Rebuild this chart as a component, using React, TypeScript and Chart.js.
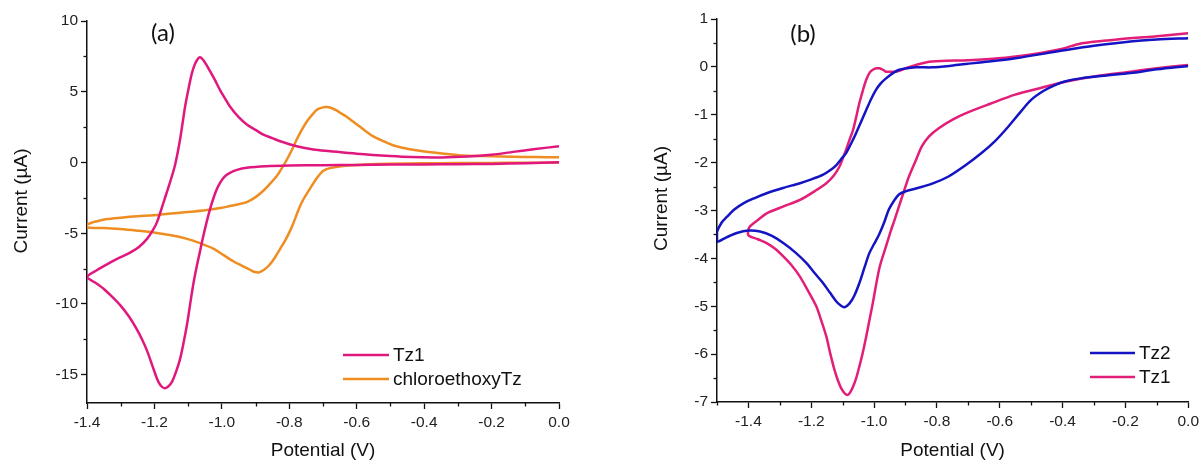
import React, { useEffect, useRef } from 'react';
import { Chart, registerables } from 'chart.js';

Chart.register(...registerables);

// ---------------- Panel (a) data ----------------
const A_TZ1_V = [
  0.0, -0.1, -0.2, -0.3, -0.4, -0.5, -0.6, -0.7, -0.8, -0.87, -0.926, -0.955, -0.976, -0.992, -1.005, -1.016, -1.026,
  -1.035, -1.045, -1.056, -1.065, -1.075, -1.084, -1.094, -1.103, -1.114, -1.124, -1.136, -1.148, -1.16, -1.171,
  -1.182, -1.192, -1.207, -1.222, -1.237, -1.252, -1.275, -1.301, -1.325, -1.35, -1.375, -1.4,
  -1.37, -1.341, -1.305, -1.271, -1.245, -1.222, -1.205, -1.192, -1.17, -1.155, -1.139, -1.124, -1.109, -1.099,
  -1.089, -1.08, -1.072, -1.065, -1.057, -1.047, -1.035, -1.02, -1.005, -0.99, -0.976, -0.95, -0.926, -0.9, -0.877,
  -0.85, -0.827, -0.778, -0.729, -0.679, -0.6, -0.5, -0.44, -0.35, -0.272, -0.2, -0.136, -0.07, 0.0,
];
const A_TZ1_I = [
  0.02, -0.05, -0.1, -0.12, -0.14, -0.15, -0.17, -0.19, -0.21, -0.26, -0.37, -0.52, -0.73, -1.0, -1.43, -1.95, -2.6,
  -3.3, -4.2, -5.3, -6.3, -7.4, -8.5, -10.0, -11.4, -12.8, -13.9, -14.8, -15.5, -15.85, -15.95,
  -15.75, -15.3, -14.3, -13.3, -12.5, -11.8, -10.9, -10.1, -9.5, -8.94, -8.5, -8.1,
  -7.6, -7.2, -6.75, -6.35, -5.95, -5.4, -4.8, -4.2, -2.6, -1.5, -0.2, 1.62, 3.96, 5.2,
  6.3, 6.95, 7.3, 7.44, 7.3, 6.95, 6.45, 5.8, 5.1, 4.5, 3.96, 3.2, 2.68, 2.3, 1.97,
  1.72, 1.5, 1.15, 0.92, 0.8, 0.62, 0.45, 0.38, 0.36, 0.42, 0.55, 0.75, 0.95, 1.15,
];
const A_CL_V = [
  0.0, -0.1, -0.2, -0.3, -0.4, -0.5, -0.58, -0.63, -0.679, -0.7, -0.718, -0.74, -0.758, -0.772, -0.788, -0.797,
  -0.812, -0.827, -0.845, -0.861, -0.876, -0.891, -0.905, -0.915, -0.94, -0.965, -0.995, -1.024, -1.065, -1.103,
  -1.15, -1.202, -1.25, -1.302, -1.35, -1.4,
  -1.4, -1.37, -1.341, -1.3, -1.25, -1.202, -1.15, -1.1, -1.044, -1.0, -0.976, -0.95, -0.926, -0.9, -0.877, -0.857,
  -0.837, -0.822, -0.807, -0.792, -0.778, -0.763, -0.748, -0.733, -0.718, -0.703, -0.69, -0.675, -0.66, -0.645,
  -0.628, -0.6, -0.575, -0.551, -0.52, -0.49, -0.46, -0.433, -0.38, -0.33, -0.284, -0.2, -0.136, -0.07, 0.0,
];
const A_CL_I = [
  0.0, -0.02, -0.03, -0.04, -0.06, -0.09, -0.15, -0.22, -0.4, -0.6, -1.1, -1.9, -2.6, -3.3, -4.3, -4.8,
  -5.5, -6.1, -6.8, -7.3, -7.6, -7.77, -7.72, -7.6, -7.3, -7.0, -6.55, -6.1, -5.7, -5.4,
  -5.15, -4.95, -4.82, -4.7, -4.63, -4.6,
  -4.4, -4.15, -4.0, -3.9, -3.8, -3.73, -3.6, -3.5, -3.36, -3.2, -3.08, -2.95, -2.8, -2.45, -2.0, -1.5,
  -0.96, -0.4, 0.21, 0.9, 1.62, 2.3, 2.9, 3.35, 3.73, 3.88, 3.92, 3.85, 3.68, 3.45,
  3.2, 2.7, 2.25, 1.85, 1.5, 1.2, 1.02, 0.9, 0.72, 0.6, 0.5, 0.44, 0.4, 0.38, 0.37,
];

// ---------------- Panel (b) data ----------------
const B_TZ2_V = [
  0.0, -0.1, -0.184, -0.26, -0.342, -0.39, -0.424, -0.46, -0.5, -0.535, -0.573, -0.615, -0.658, -0.71, -0.763,
  -0.815, -0.867, -0.9, -0.92, -0.937, -0.953, -0.968, -0.984, -1.0, -1.015, -1.031, -1.047, -1.063, -1.078, -1.094,
  -1.107, -1.12, -1.14, -1.162, -1.19, -1.215, -1.25, -1.289, -1.325, -1.363, -1.4, -1.437, -1.47, -1.5,
  -1.5, -1.485, -1.468, -1.445, -1.416, -1.38, -1.342, -1.29, -1.236, -1.2, -1.162, -1.14, -1.12, -1.105, -1.089,
  -1.073, -1.057, -1.041, -1.025, -1.01, -0.994, -0.978, -0.962, -0.94, -0.92, -0.867, -0.816, -0.76, -0.709, -0.65,
  -0.55, -0.4, -0.3, -0.184, -0.1, 0.0,
];
const B_TZ2_I = [
  0.02, -0.05, -0.13, -0.18, -0.24, -0.3, -0.38, -0.5, -0.69, -0.95, -1.25, -1.55, -1.8, -2.06, -2.29,
  -2.44, -2.54, -2.6, -2.66, -2.8, -2.98, -3.25, -3.5, -3.7, -3.89, -4.2, -4.52, -4.78, -4.94, -5.02,
  -4.98, -4.9, -4.72, -4.52, -4.3, -4.1, -3.88, -3.68, -3.53, -3.44, -3.42, -3.47, -3.56, -3.65,
  -3.45, -3.25, -3.13, -2.98, -2.85, -2.74, -2.64, -2.53, -2.43, -2.35, -2.25, -2.16, -2.05, -1.93, -1.8,
  -1.6, -1.38, -1.14, -0.9, -0.68, -0.48, -0.34, -0.24, -0.13, -0.06, -0.01, -0.01, 0.02, 0.06, 0.1,
  0.18, 0.34, 0.44, 0.53, 0.57, 0.6,
];
const B_TZ1_V = [
  0.0, -0.1, -0.184, -0.3, -0.392, -0.47, -0.551, -0.63, -0.709, -0.75, -0.794, -0.825, -0.848, -0.867, -0.889,
  -0.905, -0.921, -0.935, -0.948, -0.962, -0.983, -1.004, -1.015, -1.025, -1.036, -1.047, -1.057, -1.067, -1.076,
  -1.083, -1.092, -1.104, -1.115, -1.126, -1.139, -1.152, -1.168, -1.184, -1.21, -1.236, -1.262, -1.289, -1.315,
  -1.342, -1.37, -1.4,
  -1.4, -1.395, -1.37, -1.342, -1.29, -1.236, -1.19, -1.152, -1.128, -1.11, -1.099, -1.089, -1.078, -1.067, -1.057,
  -1.047, -1.036, -1.025, -1.014, -1.004, -0.993, -0.983, -0.972, -0.962, -0.945, -0.93, -0.915, -0.899, -0.867,
  -0.816, -0.7, -0.604, -0.5, -0.446, -0.4, -0.342, -0.26, -0.184, -0.1, 0.0,
];
const B_TZ1_I = [
  0.04, -0.03, -0.1, -0.2, -0.31, -0.44, -0.58, -0.77, -0.97, -1.1, -1.28, -1.45, -1.66, -1.95, -2.29,
  -2.6, -2.92, -3.2, -3.45, -3.75, -4.2, -4.93, -5.3, -5.63, -5.97, -6.26, -6.5, -6.68, -6.8,
  -6.85, -6.83, -6.72, -6.55, -6.33, -6.0, -5.63, -5.3, -5.0, -4.68, -4.38, -4.15, -3.96, -3.8,
  -3.68, -3.6, -3.52,
  -3.4, -3.33, -3.2, -3.06, -2.92, -2.78, -2.6, -2.43, -2.27, -2.08, -1.9, -1.73, -1.52, -1.32, -1.05,
  -0.76, -0.5, -0.27, -0.12, -0.06, -0.03, -0.03, -0.06, -0.1, -0.1, -0.1, -0.07, -0.03, 0.04,
  0.11, 0.14, 0.18, 0.26, 0.32, 0.38, 0.49, 0.55, 0.6, 0.64, 0.7,
];

// ---------------- Tick labels ----------------
const A_X_LABELS = ['-1.4', '-1.2', '-1.0', '-0.8', '-0.6', '-0.4', '-0.2', '0.0'];
const A_Y_LABELS = ['-15', '-10', '-5', '0', '5', '10'];
const B_X_LABELS = ['-1.4', '-1.2', '-1.0', '-0.8', '-0.6', '-0.4', '-0.2', '0.0'];
const B_Y_LABELS = ['-7', '-6', '-5', '-4', '-3', '-2', '-1', '0', '1'];

const FONT = '"Liberation Sans", Arial, sans-serif';

type Series = { label: string; color: string; V: number[]; I: number[] };
type Axis = { min: number; max: number; step: number; labels: string[] };
type Panel = {
  series: Series[];
  x: Axis;
  y: Axis;
  yAxisWidth: number;
  xAxisHeight: number;
  padding: { top: number; right: number };
  yTitleX: number;
  yTitleShift: number;
  xTitleY: number;
  tag: string;
  tagPos: [number, number];
  legend: { x: number; y: number; dy: number; len: number };
};

const labelFor = (v: number, labels: string[]): string => {
  const hit = labels.find((l) => Math.abs(parseFloat(l) - v) < 1e-6);
  return hit === undefined ? '' : hit;
};

const decor = {
  id: 'decor',
  afterDraw(chart: any, _args: any, o: any) {
    const p: Panel = o.panel;
    const { ctx, chartArea, scales } = chart;
    ctx.save();
    // minor ticks
    ctx.strokeStyle = '#111';
    ctx.lineWidth = 1.3;
    scales.x.ticks.forEach((t: any) => {
      if (!labelFor(t.value, p.x.labels)) {
        const px = Math.round(scales.x.getPixelForValue(t.value)) + 0.5;
        ctx.beginPath();
        ctx.moveTo(px, chartArea.bottom);
        ctx.lineTo(px, chartArea.bottom + 3.5);
        ctx.stroke();
      }
    });
    scales.y.ticks.forEach((t: any) => {
      if (!labelFor(t.value, p.y.labels)) {
        const py = Math.round(scales.y.getPixelForValue(t.value)) + 0.5;
        ctx.beginPath();
        ctx.moveTo(chartArea.left, py);
        ctx.lineTo(chartArea.left - 3.5, py);
        ctx.stroke();
      }
    });
    // axis titles
    ctx.fillStyle = '#111';
    ctx.font = `19px ${FONT}`;
    ctx.textAlign = 'center';
    ctx.textBaseline = 'middle';
    ctx.fillText('Potential (V)', (chartArea.left + chartArea.right) / 2, p.xTitleY);
    ctx.save();
    ctx.translate(p.yTitleX, (chartArea.top + chartArea.bottom) / 2 - p.yTitleShift);
    ctx.rotate(-Math.PI / 2);
    ctx.fillText('Current (\u00B5A)', 0, 0);
    ctx.restore();
    // panel tag
    ctx.font = `24px Lato, "Open Sans", sans-serif`;
    ctx.fillText(p.tag, p.tagPos[0], p.tagPos[1]);
    // legend
    ctx.font = `19px ${FONT}`;
    ctx.textAlign = 'left';
    chart.data.datasets.forEach((ds: any, i: number) => {
      const y = p.legend.y + i * p.legend.dy;
      ctx.strokeStyle = ds.borderColor;
      ctx.lineWidth = 2.5;
      ctx.beginPath();
      ctx.moveTo(p.legend.x, y);
      ctx.lineTo(p.legend.x + p.legend.len, y);
      ctx.stroke();
      ctx.fillStyle = '#111';
      ctx.fillText(ds.label, p.legend.x + p.legend.len + 4, y + 1);
    });
    ctx.restore();
  },
};

function makeConfig(p: Panel): any {
  const gridFor = (ax: Axis) => ({
    display: true,
    drawOnChartArea: false,
    drawTicks: true,
    tickLength: 6,
    tickWidth: 1.3,
    tickColor: (c: any) => (c.tick && labelFor(c.tick.value, ax.labels) ? '#111' : 'rgba(0,0,0,0)'),
  });
  const ticksFor = (ax: Axis, pad: number) => ({
    stepSize: ax.step,
    autoSkip: false,
    maxRotation: 0,
    includeBounds: false,
    padding: pad,
    color: '#222',
    font: { family: FONT, size: 15.5 },
    callback: (v: number) => labelFor(v, ax.labels),
  });
  return {
    type: 'scatter',
    data: {
      datasets: p.series.map((s) => ({
        label: s.label,
        data: s.V.map((v, i) => ({ x: v, y: s.I[i] })),
        showLine: true,
        borderColor: s.color,
        backgroundColor: s.color,
        borderWidth: 2.5,
        borderJoinStyle: 'round',
        pointRadius: 0,
        tension: 0.3,
        fill: false,
      })),
    },
    options: {
      responsive: false,
      animation: false,
      devicePixelRatio: 1,
      layout: { padding: { top: p.padding.top, right: p.padding.right, left: 0, bottom: 0 } },
      plugins: { legend: { display: false }, tooltip: { enabled: false }, decor: { panel: p } },
      scales: {
        x: {
          type: 'linear',
          position: 'bottom',
          min: p.x.min,
          max: p.x.max,
          border: { display: true, color: '#111', width: 1.5 },
          title: { display: false },
          afterFit: (s: any) => {
            s.height = p.xAxisHeight;
          },
          grid: gridFor(p.x),
          ticks: ticksFor(p.x, 4),
        },
        y: {
          type: 'linear',
          position: 'left',
          min: p.y.min,
          max: p.y.max,
          border: { display: true, color: '#111', width: 1.5 },
          title: { display: false },
          afterFit: (s: any) => {
            s.width = p.yAxisWidth;
          },
          grid: gridFor(p.y),
          ticks: ticksFor(p.y, 3),
        },
      },
    },
    plugins: [decor],
  };
}

const PANEL_A: Panel = {
  series: [
    { label: 'Tz1', color: '#E0187E', V: A_TZ1_V, I: A_TZ1_I },
    { label: 'chloroethoxyTz', color: '#EE8E22', V: A_CL_V, I: A_CL_I },
  ],
  x: { min: -1.4, max: 0, step: 0.1, labels: A_X_LABELS },
  y: { min: -17, max: 10, step: 2.5, labels: A_Y_LABELS },
  yAxisWidth: 87,
  xAxisHeight: 59,
  padding: { top: 21, right: 41 },
  yTitleX: 22,
  yTitleShift: 11,
  xTitleY: 451,
  tag: '(a)',
  tagPos: [163, 33],
  legend: { x: 343, y: 355, dy: 24, len: 46 },
};

const PANEL_B: Panel = {
  series: [
    { label: 'Tz2', color: '#1414C4', V: B_TZ2_V, I: B_TZ2_I },
    { label: 'Tz1', color: '#E21E78', V: B_TZ1_V, I: B_TZ1_I },
  ],
  x: { min: -1.5, max: 0, step: 0.1, labels: B_X_LABELS },
  y: { min: -7, max: 1, step: 0.5, labels: B_Y_LABELS },
  yAxisWidth: 117,
  xAxisHeight: 60,
  padding: { top: 19, right: 12 },
  yTitleX: 62,
  yTitleShift: 12,
  xTitleY: 451,
  tag: '(b)',
  tagPos: [203, 34],
  legend: { x: 490, y: 353, dy: 24, len: 45 },
};

function CVPanel({ panel, left, width }: { panel: Panel; left: number; width: number }) {
  const ref = useRef<HTMLCanvasElement>(null);
  useEffect(() => {
    const chart = new Chart(ref.current as HTMLCanvasElement, makeConfig(panel));
    return () => chart.destroy();
  }, [panel]);
  return (
    <canvas
      ref={ref}
      width={width}
      height={462}
      style={{ position: 'absolute', left, top: 0, width, height: 462, display: 'block' }}
    />
  );
}

export default function App() {
  return (
    <div style={{ position: 'fixed', left: 0, top: 0, width: 1203, height: 462, background: '#fff', overflow: 'hidden' }}>
      <CVPanel panel={PANEL_A} left={0} width={600} />
      <CVPanel panel={PANEL_B} left={600} width={603} />
    </div>
  );
}
